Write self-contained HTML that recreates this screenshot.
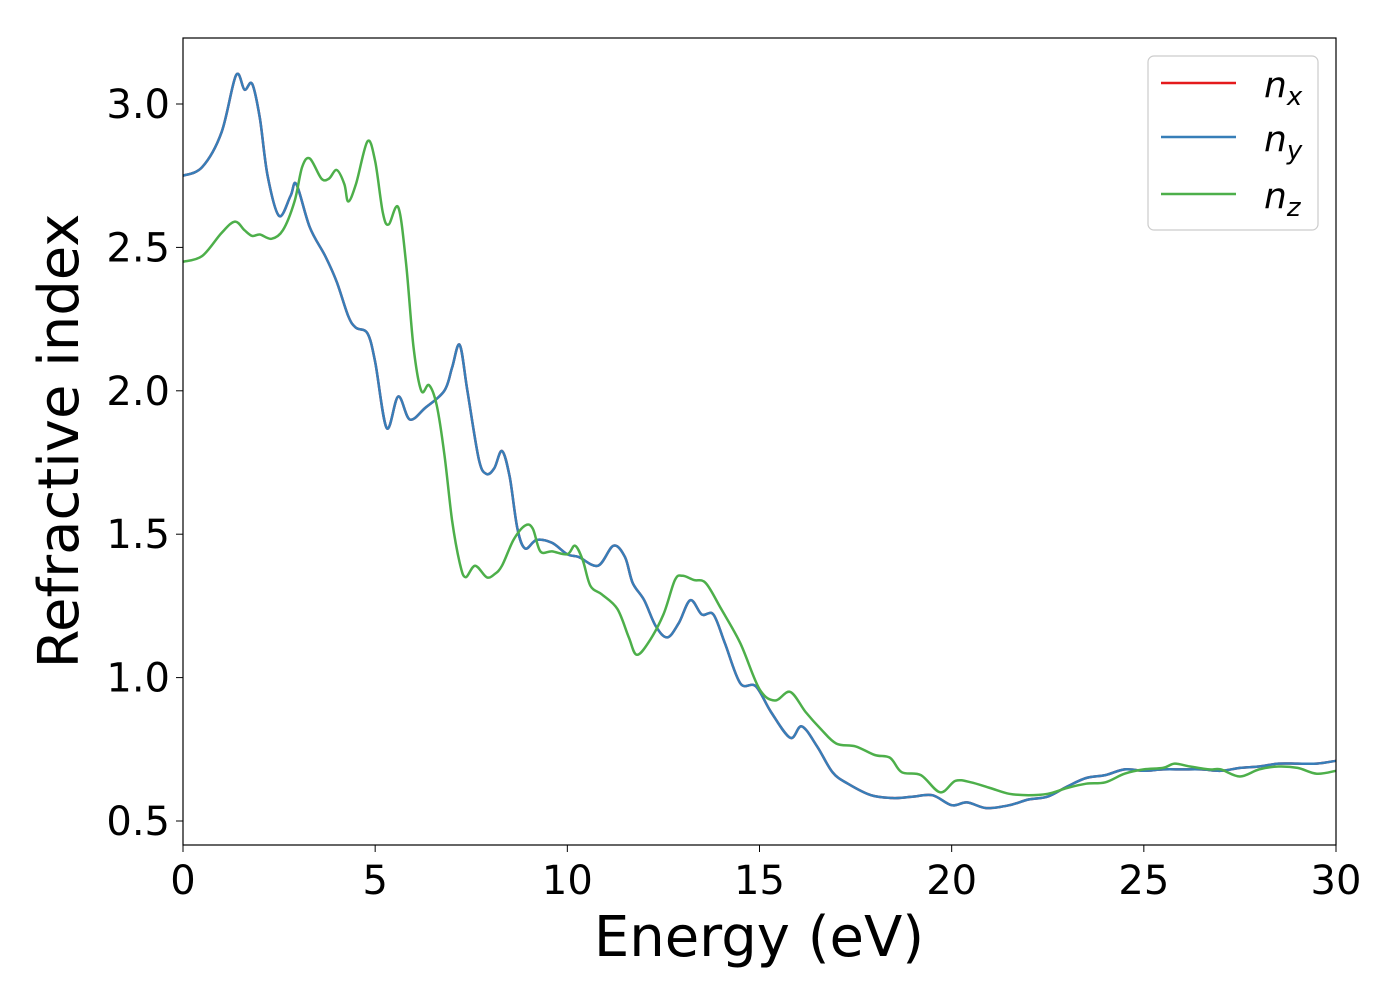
<!DOCTYPE html>
<html><head><meta charset="utf-8"><style>
html,body{margin:0;padding:0;background:#fff;}
svg{display:block;font-family:"DejaVu Sans","Liberation Sans",sans-serif;}
</style></head><body>
<svg id="chart" width="1400" height="1000" viewBox="0 0 1400 1000" xmlns="http://www.w3.org/2000/svg">
<g id="plot"></g>
<rect x="183" y="38" width="1153" height="807" fill="none" stroke="#000" stroke-width="1.2"/>
<g id="xticks"></g>
<g id="yticks"></g>
<text x="759" y="956" font-size="56" text-anchor="middle">Energy (eV)</text>
<text transform="translate(78,441) rotate(-90)" font-size="56" text-anchor="middle">Refractive index</text>
<g>
<rect x="1148" y="56" width="170" height="174" rx="6" fill="#fff" stroke="#ccc" stroke-width="1.2"/>
<line x1="1161" y1="83" x2="1236" y2="83" stroke="#e41a1c" stroke-width="2.5"/>
<text x="1264" y="97" font-size="36" font-style="italic">n<tspan font-size="26" dy="8">x</tspan></text>
<line x1="1161" y1="137" x2="1236" y2="137" stroke="#377eb8" stroke-width="2.5"/>
<text x="1264" y="151" font-size="36" font-style="italic">n<tspan font-size="26" dy="8">y</tspan></text>
<line x1="1161" y1="194" x2="1236" y2="194" stroke="#4daf4a" stroke-width="2.5"/>
<text x="1264" y="208" font-size="36" font-style="italic">n<tspan font-size="26" dy="8">z</tspan></text>
</g>
</svg>
<script>
const xyEnergy = [0,0.5,1.0,1.38,1.6,1.8,2.0,2.2,2.5,2.8,2.95,3.3,3.7,4.0,4.3,4.5,4.8,5.0,5.3,5.6,5.9,6.3,6.8,7.0,7.2,7.4,7.7,7.9,8.1,8.3,8.5,8.7,8.9,9.2,9.6,10.0,10.3,10.8,11.2,11.5,11.7,12.0,12.3,12.6,12.9,13.2,13.5,13.8,14.1,14.5,14.9,15.3,15.8,16.1,16.5,16.9,17.3,17.9,18.5,19.0,19.5,20.0,20.4,20.9,21.5,22.0,22.5,23.0,23.5,24.0,24.5,25.0,25.5,26.0,26.5,27.0,27.5,28.0,28.5,29.0,29.5,30];
const nxValues = [2.75,2.78,2.9,3.10,3.05,3.07,2.95,2.75,2.61,2.68,2.72,2.57,2.47,2.38,2.26,2.22,2.2,2.1,1.87,1.98,1.90,1.94,2.0,2.08,2.16,2.0,1.76,1.71,1.73,1.79,1.70,1.52,1.45,1.48,1.47,1.43,1.42,1.39,1.46,1.42,1.33,1.27,1.18,1.14,1.19,1.27,1.22,1.22,1.12,0.98,0.97,0.88,0.79,0.83,0.76,0.67,0.63,0.59,0.58,0.585,0.59,0.555,0.565,0.545,0.555,0.575,0.585,0.62,0.65,0.66,0.68,0.675,0.68,0.68,0.68,0.675,0.685,0.69,0.70,0.70,0.70,0.71];
const nyValues = nxValues.slice();
const zEnergy = [0,0.5,1.0,1.35,1.6,1.8,2.0,2.3,2.6,2.9,3.1,3.3,3.6,3.8,4.0,4.2,4.3,4.5,4.8,5.0,5.2,5.35,5.6,5.8,6.0,6.2,6.4,6.6,6.8,7.0,7.2,7.35,7.6,7.9,8.1,8.3,8.6,8.9,9.1,9.3,9.6,10.0,10.2,10.4,10.6,10.9,11.3,11.6,11.8,12.1,12.5,12.8,13.0,13.3,13.6,14.0,14.5,15.0,15.4,15.8,16.2,16.6,17.0,17.5,18.0,18.4,18.7,19.2,19.7,20.1,20.5,21.0,21.5,22.0,22.5,23.0,23.5,24.0,24.5,25.0,25.5,25.8,26.2,26.7,27.0,27.5,28.0,28.5,29.0,29.5,30];
const nzValues = [2.45,2.47,2.55,2.59,2.56,2.54,2.545,2.53,2.56,2.66,2.78,2.81,2.74,2.74,2.77,2.72,2.66,2.72,2.87,2.80,2.62,2.58,2.64,2.45,2.15,2.0,2.02,1.95,1.78,1.55,1.40,1.35,1.39,1.35,1.36,1.39,1.48,1.53,1.52,1.44,1.44,1.43,1.46,1.41,1.32,1.29,1.24,1.14,1.08,1.12,1.22,1.34,1.355,1.34,1.33,1.24,1.12,0.96,0.92,0.95,0.88,0.82,0.77,0.76,0.73,0.72,0.67,0.66,0.60,0.64,0.635,0.615,0.595,0.59,0.595,0.615,0.63,0.635,0.665,0.68,0.685,0.70,0.69,0.68,0.68,0.655,0.68,0.69,0.685,0.665,0.675];
const xTickValues = [0,5,10,15,20,25,30];
const yTickValues = [0.5,1.0,1.5,2.0,2.5,3.0];

const NS = "http://www.w3.org/2000/svg";
function sx(v){ return 183 + v * (1153/30); }
function sy(v){ return 104 + (3.0 - v) * 286.8; }
function pathFor(xs, ys){
  const p = xs.map((x,i)=>[sx(x), sy(ys[i])]);
  let d = "M" + p[0][0].toFixed(1) + "," + p[0][1].toFixed(1);
  for (let i=0;i<p.length-1;i++){
    const p0 = p[Math.max(0,i-1)], p1 = p[i], p2 = p[i+1], p3 = p[Math.min(p.length-1,i+2)];
    const c1x = p1[0] + (p2[0]-p0[0])/6, c1y = p1[1] + (p2[1]-p0[1])/6;
    const c2x = p2[0] - (p3[0]-p1[0])/6, c2y = p2[1] - (p3[1]-p1[1])/6;
    d += " C" + c1x.toFixed(1)+","+c1y.toFixed(1)+" "+c2x.toFixed(1)+","+c2y.toFixed(1)+" "+p2[0].toFixed(1)+","+p2[1].toFixed(1);
  }
  return d;
}
const plot = document.getElementById("plot");
function addLine(xs, ys, color, name){
  const el = document.createElementNS(NS, "path");
  el.setAttribute("d", pathFor(xs, ys));
  el.setAttribute("fill", "none");
  el.setAttribute("stroke", color);
  el.setAttribute("stroke-width", "2.5");
  
  
  plot.appendChild(el);
}
addLine(xyEnergy, nxValues, "#e41a1c", "line-nx");
addLine(xyEnergy, nyValues, "#377eb8", "line-ny");
addLine(zEnergy, nzValues, "#4daf4a", "line-nz");

const xg = document.getElementById("xticks");
xTickValues.forEach(v=>{
  const t = document.createElementNS(NS, "line");
  t.setAttribute("x1", sx(v)); t.setAttribute("x2", sx(v));
  t.setAttribute("y1", 845); t.setAttribute("y2", 852);
  t.setAttribute("stroke", "#000");
  
  
  xg.appendChild(t);
  const l = document.createElementNS(NS, "text");
  l.setAttribute("x", sx(v)); l.setAttribute("y", 894);
  l.setAttribute("font-size", "40"); l.setAttribute("text-anchor", "middle");
  l.textContent = String(v);
  
  
  xg.appendChild(l);
});
const yg = document.getElementById("yticks");
yTickValues.forEach(v=>{
  const t = document.createElementNS(NS, "line");
  t.setAttribute("x1", 176); t.setAttribute("x2", 183);
  t.setAttribute("y1", sy(v)); t.setAttribute("y2", sy(v));
  t.setAttribute("stroke", "#000");
  
  
  yg.appendChild(t);
  const l = document.createElementNS(NS, "text");
  l.setAttribute("x", 170); l.setAttribute("y", sy(v) + 14);
  l.setAttribute("font-size", "40"); l.setAttribute("text-anchor", "end");
  l.textContent = v.toFixed(1);
  
  
  yg.appendChild(l);
});
</script>
</body></html>
